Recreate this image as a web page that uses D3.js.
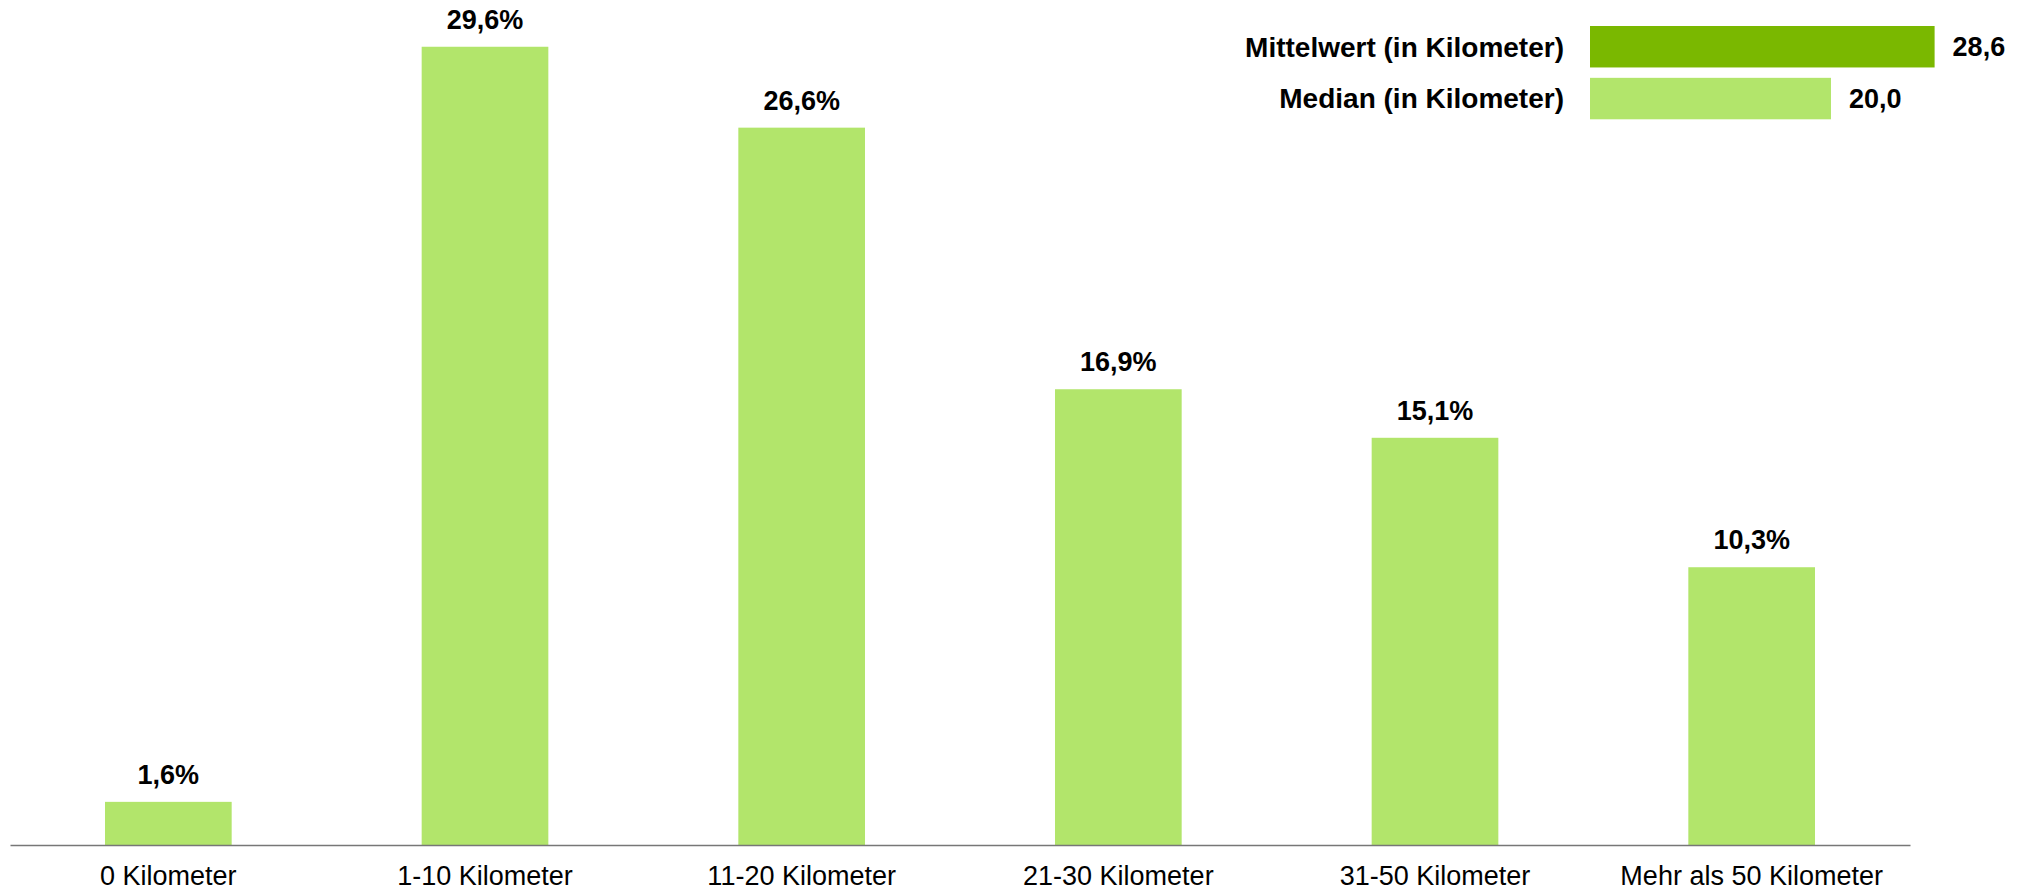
<!DOCTYPE html>
<html>
<head>
<meta charset="utf-8">
<script src="https://cdn.jsdelivr.net/npm/d3@7"></script>
<style>
  html, body { margin: 0; padding: 0; background: #ffffff; }
  svg { display: block; }
  text { font-family: "Liberation Sans", Arial, sans-serif; }
</style>
</head>
<body>
<svg id="chart" width="2029" height="892"></svg>
<script>
// Data
const categories = ["0 Kilometer", "1-10 Kilometer", "11-20 Kilometer", "21-30 Kilometer", "31-50 Kilometer", "Mehr als 50 Kilometer"];
const shares = [1.6, 29.6, 26.6, 16.9, 15.1, 10.3];
const statLabels = ["Mittelwert (in Kilometer)", "Median (in Kilometer)"];
const statValues = [28.6, 20.0];

const fmt = v => d3.format(".1f")(v).replace(".", ",");

const svg = d3.select("#chart");
const lightGreen = "#b2e56b";
const darkGreen = "#7ab800";

// Main bar chart
const x = d3.scaleBand().domain(categories).range([10, 1910]).paddingInner(0.6).paddingOuter(0.3);
const y = d3.scaleLinear().domain([0, 31]).range([845, 9]);

svg.append("g").selectAll("rect")
  .data(shares)
  .join("rect")
  .attr("x", (d, i) => x(categories[i]))
  .attr("y", d => y(d))
  .attr("width", x.bandwidth())
  .attr("height", d => y(0) - y(d))
  .attr("fill", lightGreen);

svg.append("g").selectAll("text")
  .data(shares)
  .join("text")
  .attr("x", (d, i) => x(categories[i]) + x.bandwidth() / 2)
  .attr("y", d => y(d) - 18)
  .attr("text-anchor", "middle")
  .attr("font-size", 27)
  .attr("font-weight", "bold")
  .attr("fill", "#000")
  .text(d => fmt(d) + "%");

const xAxis = svg.append("g")
  .attr("transform", `translate(0,${y(0)})`)
  .call(d3.axisBottom(x).tickSize(0).tickSizeOuter(0).tickPadding(21));
xAxis.select(".domain").attr("stroke", "#777").attr("stroke-width", 1.6);
xAxis.selectAll("text").attr("font-size", 27).attr("fill", "#000")
  .attr("font-family", "'Liberation Sans', Arial, sans-serif");

// Legend-like statistic bars
const ly = d3.scaleBand().domain(statLabels).range([26, 119.3]).paddingInner(0.2);
const lx = d3.scaleLinear().domain([0, 28.6]).range([1590, 1934.6]);
const statColors = [darkGreen, lightGreen];

const lg = svg.append("g");
lg.selectAll("rect")
  .data(statValues)
  .join("rect")
  .attr("x", lx(0))
  .attr("y", (d, i) => ly(statLabels[i]))
  .attr("width", d => lx(d) - lx(0))
  .attr("height", ly.bandwidth())
  .attr("fill", (d, i) => statColors[i]);

lg.selectAll("text.lbl")
  .data(statLabels)
  .join("text")
  .attr("class", "lbl")
  .attr("x", 1564)
  .attr("y", d => ly(d) + ly.bandwidth() / 2)
  .attr("dy", "0.35em")
  .attr("text-anchor", "end")
  .attr("font-size", 28)
  .attr("font-weight", "bold")
  .attr("fill", "#000")
  .text(d => d);

lg.selectAll("text.val")
  .data(statValues)
  .join("text")
  .attr("class", "val")
  .attr("x", d => lx(d) + 18)
  .attr("y", (d, i) => ly(statLabels[i]) + ly.bandwidth() / 2)
  .attr("dy", "0.35em")
  .attr("font-size", 27)
  .attr("font-weight", "bold")
  .attr("fill", "#000")
  .text(d => fmt(d));
</script>
</body>
</html>
